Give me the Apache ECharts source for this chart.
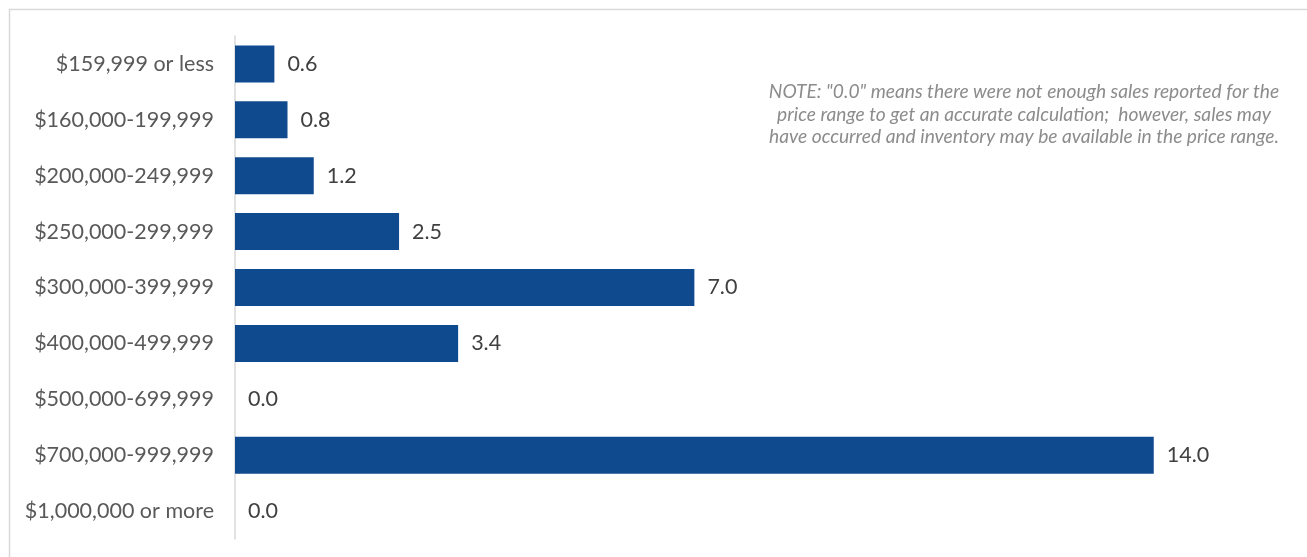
<!DOCTYPE html>
<html>
<head>
<meta charset="utf-8">
<script src="https://cdn.jsdelivr.net/npm/echarts@6/dist/echarts.min.js"></script>
<style>
  html, body { margin: 0; padding: 0; background: #fff; }
  #chart { width: 1307px; height: 557px; }
</style>
</head>
<body>
<div id="chart"></div>
<script>
  // price ranges, top to bottom
  const categories = [
    '$159,999 or less',
    '$160,000-199,999',
    '$200,000-249,999',
    '$250,000-299,999',
    '$300,000-399,999',
    '$400,000-499,999',
    '$500,000-699,999',
    '$700,000-999,999',
    '$1,000,000 or more'
  ];
  const monthsSupply = [0.6, 0.8, 1.2, 2.5, 7.0, 3.4, 0.0, 14.0, 0.0];
  const noteLines = [
    'NOTE: "0.0" means there were not enough sales reported for the',
    'price range to get an accurate calculation;  however, sales may',
    'have occurred and inventory may be available in the price range.'
  ];

  const myChart = echarts.init(document.getElementById('chart'));
  const option = {
    backgroundColor: '#fff',
    animation: false,
    grid: {
      left: 235,
      right: 22,
      top: 36,
      bottom: 18,
      containLabel: false
    },
    xAxis: {
      type: 'value',
      min: 0,
      max: 16,
      show: false
    },
    yAxis: {
      type: 'category',
      inverse: true,
      data: categories,
      axisLine: { show: true, lineStyle: { color: '#d9d9d9', width: 1.5 } },
      axisTick: { show: false },
      axisLabel: {
        margin: 21,
        color: '#595959',
        fontFamily: 'Lato',
        fontSize: 21.5
      }
    },
    series: [{
      type: 'bar',
      data: monthsSupply,
      barWidth: 37,
      itemStyle: { color: '#0f4a8f' },
      label: {
        show: true,
        position: 'right',
        distance: 13,
        color: '#404040',
        fontFamily: 'Lato',
        fontSize: 21.5,
        formatter: p => p.value.toFixed(1)
      }
    }],
    graphic: [
      {
        type: 'rect',
        silent: true,
        shape: { x: 9.5, y: 9.5, width: 1320, height: 570 },
        style: { fill: 'none', stroke: '#d9d9d9', lineWidth: 1.5 }
      },
      {
        type: 'text',
        silent: true,
        x: 1024,
        y: 81,
        style: {
          text: noteLines.join('\n'),
          textAlign: 'center',
          textVerticalAlign: 'top',
          fill: '#8c8c8c',
          font: 'italic 19.2px Lato',
          lineHeight: 22.5
        }
      }
    ]
  };
  myChart.setOption(option, true);
  window.addEventListener('resize', function () {
    myChart.resize();
  });
</script>
</body>
</html>
